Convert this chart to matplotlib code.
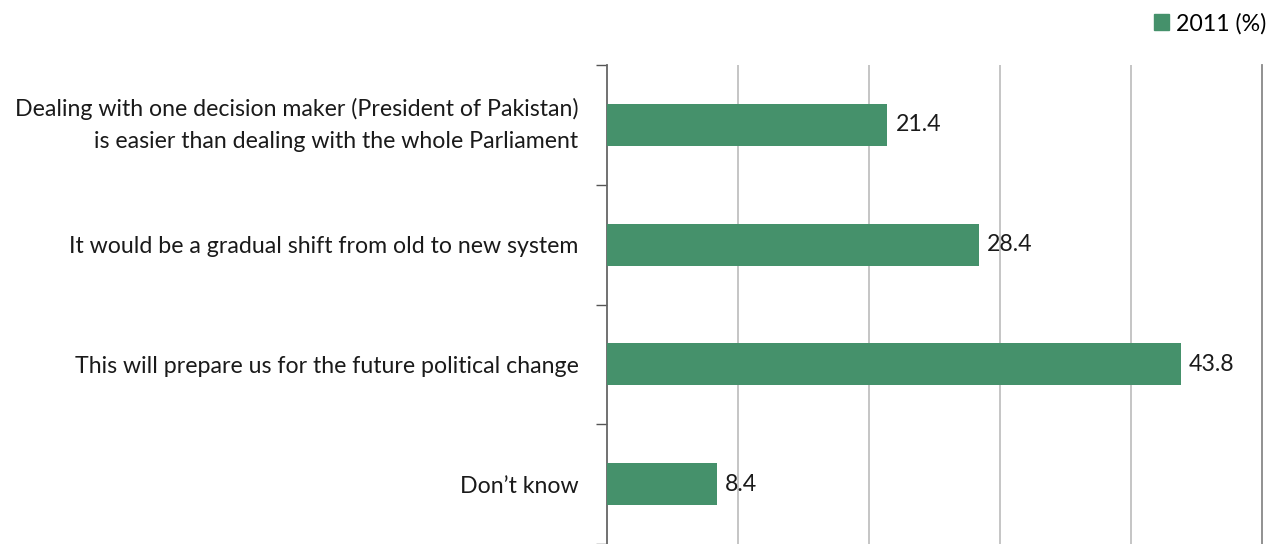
import matplotlib.pyplot as plt
from matplotlib.patches import Patch

categories = [
    "Dealing with one decision maker (President of Pakistan)\nis easier than dealing with the whole Parliament",
    "It would be a gradual shift from old to new system",
    "This will prepare us for the future political change",
    "Don\u2019t know",
]
values_2011 = [21.4, 28.4, 43.8, 8.4]
series_label = "2011 (%)"

bar_color = "#45916B"
text_color = "#1a1a1a"
fsize = 16.7
plt.rcParams["font.family"] = ["Lato", "DejaVu Sans"]

fig = plt.figure(figsize=(12.78, 5.44), dpi=100)
ax = fig.add_axes([607 / 1278, 0.0, (1262 - 607) / 1278, (544 - 65) / 544])

pos = list(range(len(categories)))
bars = ax.barh(pos, values_2011, height=0.35, color=bar_color, zorder=3)

ax.set_xlim(0, 50)
ax.set_ylim(len(categories) - 0.5, -0.5)
ax.set_xticks([10, 20, 30, 40])
ax.tick_params(axis="x", length=0, labelbottom=False)
ax.grid(axis="x", color="#c0c0c0", linewidth=1.3, zorder=0)

# tick marks sit on the category boundaries, labels in the middle
ax.set_yticks([p - 0.5 for p in pos] + [len(categories) - 0.5])
ax.set_yticklabels([])
ax.tick_params(axis="y", length=8, width=1.0, color="#555555")
ax.set_yticks(pos, minor=True)
labels = ax.set_yticklabels(categories, minor=True, fontsize=fsize, color=text_color,
                            ha="right", linespacing=1.65)
labels[0].set_va("center")
ax.tick_params(axis="y", which="minor", length=0, pad=20.5)

for side in ["top", "bottom"]:
    ax.spines[side].set_visible(False)
ax.spines["left"].set_color("#666666")
ax.spines["left"].set_linewidth(1.3)
ax.spines["right"].set_color("#888888")
ax.spines["right"].set_linewidth(1.3)

for b, v in zip(bars, values_2011):
    ax.annotate(f"{v}", (b.get_width(), b.get_y() + b.get_height() / 2),
                xytext=(6, 0), textcoords="offset points",
                va="center", ha="left", fontsize=fsize, color=text_color)

fig.legend(handles=[Patch(color=bar_color, label=series_label)],
           loc="upper right", bbox_to_anchor=(1287 / 1278, 1.015),
           frameon=False, fontsize=fsize, handlelength=0.65, handleheight=0.65,
           handletextpad=0.3)

fig.savefig("out.png", dpi=100)
